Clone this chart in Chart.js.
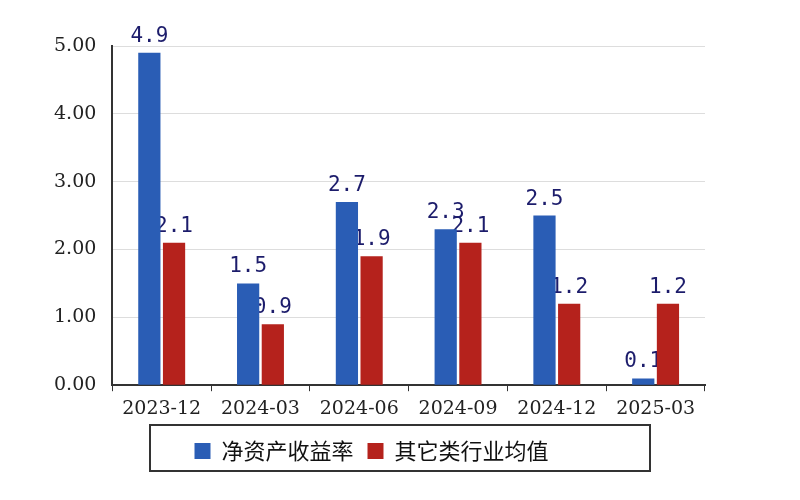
<!DOCTYPE html>
<html>
<head>
<meta charset="utf-8">
<script src="https://cdn.jsdelivr.net/npm/chart.js@4/dist/chart.umd.min.js"></script>
<style>
  html, body { margin: 0; padding: 0; background: #fff; }
  #wrap { width: 800px; height: 500px; }
</style>
</head>
<body>
<div id="wrap"><canvas id="roeChart"></canvas></div>
<script>
// --- Data ---
const periods = ['2023-12', '2024-03', '2024-06', '2024-09', '2024-12', '2025-03'];
const roeValues = [4.9, 1.5, 2.7, 2.3, 2.5, 0.1];
const industryAvg = [2.1, 0.9, 1.9, 2.1, 1.2, 1.2];
const yTicks = [0, 1, 2, 3, 4, 5];

// --- Plugin: value labels above bars (drawn under bars, like the original) ---
const valueLabels = {
    id: 'valueLabels',
    beforeDatasetsDraw(chart) {
        const ctx = chart.ctx;
        ctx.save();
        ctx.fillStyle = '#1c1c6b';
        ctx.font = '21px "DejaVu Sans Mono", monospace';
        ctx.textAlign = 'center';
        ctx.textBaseline = 'bottom';
        chart.data.datasets.forEach((ds, i) => {
            chart.getDatasetMeta(i).data.forEach((bar, j) => {
                ctx.fillText(ds.data[j].toFixed(1), bar.x, bar.y - 6);
            });
        });
        ctx.restore();
    }
};

// --- Plugin: frame around the legend ---
const legendFrame = {
    id: 'legendFrame',
    afterDraw(chart) {
        const ctx = chart.ctx;
        ctx.save();
        ctx.strokeStyle = '#333';
        ctx.lineWidth = 2;
        ctx.strokeRect(150, 425, 500, 46);
        ctx.restore();
    }
};

new Chart(document.getElementById('roeChart'), {
    type: 'bar',
    data: {
        labels: periods,
        datasets: [
            { label: '净资产收益率', data: roeValues, backgroundColor: '#2a5db5' },
            { label: '其它类行业均值', data: industryAvg, backgroundColor: '#b5221c' }
        ]
    },
    options: {
        responsive: true,
        maintainAspectRatio: false,
        animation: false,
        layout: { padding: { left: 38, right: 95, top: 46, bottom: 28 } },
        datasets: { bar: { categoryPercentage: 0.5, barPercentage: 0.9 } },
        scales: {
            x: {
                grid: { drawOnChartArea: false, offset: true, color: '#333', tickLength: 6 },
                border: { color: '#333', width: 2 },
                ticks: { color: '#222', font: { family: '"DejaVu Serif", serif', size: 19 }, padding: 6, maxRotation: 0 }
            },
            y: {
                min: 0,
                max: 5,
                afterBuildTicks(axis) { axis.ticks = yTicks.map(v => ({ value: v })); },
                grid: { color: '#dddddd', drawTicks: false },
                border: { color: '#333', width: 2 },
                ticks: {
                    color: '#222',
                    font: { family: '"DejaVu Serif", serif', size: 19 },
                    padding: 16,
                    callback: v => v.toFixed(2)
                }
            }
        },
        plugins: {
            tooltip: { enabled: false },
            legend: {
                position: 'bottom',
                labels: {
                    color: '#111',
                    font: { family: '"Noto Sans CJK SC", sans-serif', size: 22 },
                    boxWidth: 16,
                    boxHeight: 16,
                    padding: 14
                }
            }
        }
    },
    plugins: [valueLabels, legendFrame]
});
</script>
</body>
</html>
